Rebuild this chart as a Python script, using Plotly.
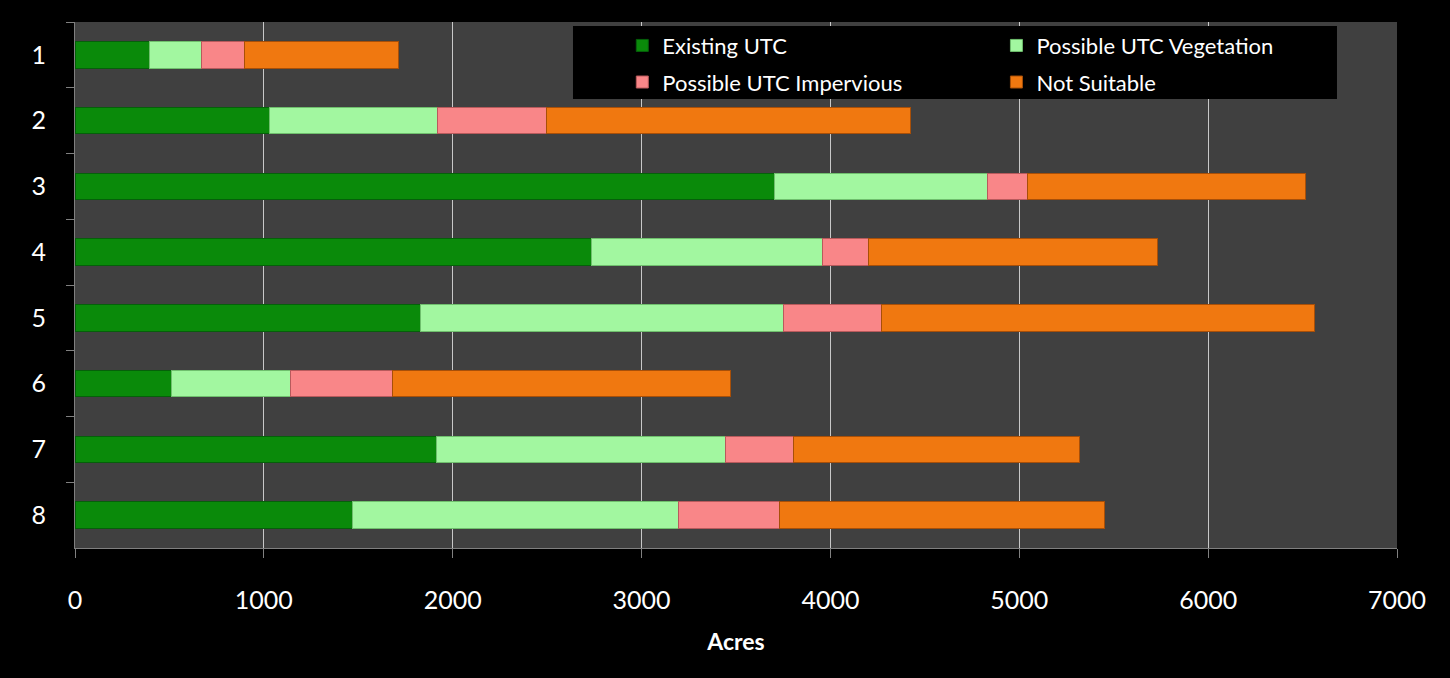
import plotly.graph_objects as go

categories = ["1", "2", "3", "4", "5", "6", "7", "8"]
existing_utc = [392, 1032, 3706, 2734, 1832, 513, 1913, 1471]
possible_veg = [280, 890, 1124, 1226, 1919, 630, 1532, 1722]
possible_imp = [223, 577, 216, 243, 518, 540, 357, 539]
not_suitable = [820, 1927, 1472, 1529, 2293, 1788, 1518, 1720]
x_ticks = [0, 1000, 2000, 3000, 4000, 5000, 6000, 7000]

series = [
    ("Existing UTC", existing_utc, "#0a8a0a", "#05600a", "legend"),
    ("Possible UTC Vegetation", possible_veg, "#a2f7a0", "#6fbf6d", "legend2"),
    ("Possible UTC Impervious", possible_imp, "#f98688", "#b85a5c", "legend"),
    ("Not Suitable", not_suitable, "#f07810", "#a84f08", "legend2"),
]

fig = go.Figure()
for name, vals, color, edge, leg in series:
    fig.add_trace(go.Bar(
        y=categories, x=vals, name=name, orientation="h",
        legend=leg, legendgroup=name,
        marker=dict(color=color, line=dict(color=edge, width=1)),
    ))

font = "Lato, 'Open Sans', sans-serif"
legend_common = dict(
    orientation="v", xanchor="left", yanchor="top", y=0.995,
    bgcolor="rgba(0,0,0,0)", font=dict(size=22, color="white"),
    itemwidth=30, tracegroupgap=5, traceorder="grouped",
)
fig.update_layout(
    barmode="stack",
    bargap=0.6,
    width=1450, height=678,
    paper_bgcolor="black",
    plot_bgcolor="#404040",
    margin=dict(l=75, r=53, t=22, b=130),
    font=dict(family=font, color="white", size=22),
    legend=dict(x=0.414, **legend_common),
    legend2=dict(x=0.697, **legend_common),
    shapes=[dict(
        type="rect", xref="paper", yref="paper",
        x0=0.3767, x1=0.9546, y0=0.8536, y1=0.9924,
        fillcolor="black", line=dict(width=0), layer="above",
    )],
    xaxis=dict(
        range=[0, 7000], tickvals=x_ticks,
        showgrid=True, gridcolor="#c8c8c8", gridwidth=1,
        ticks="outside", ticklen=9, tickcolor="#808080",
        showline=True, linecolor="#808080",
        tickfont=dict(size=25, color="white"),
        ticklabelstandoff=21,
        title=dict(text="<b>Acres</b>", font=dict(size=23, color="white"), standoff=20),
        zeroline=False,
    ),
    yaxis=dict(
        autorange="reversed",
        tickson="boundaries",
        ticks="outside", ticklen=8, tickcolor="#808080",
        showline=True, linecolor="#808080",
        showgrid=False,
        tickfont=dict(size=25, color="white"),
        ticklabelstandoff=23,
    ),
)

fig.write_html("out.html", post_script="document.body.style.margin='0';",
               config={"displayModeBar": False})
